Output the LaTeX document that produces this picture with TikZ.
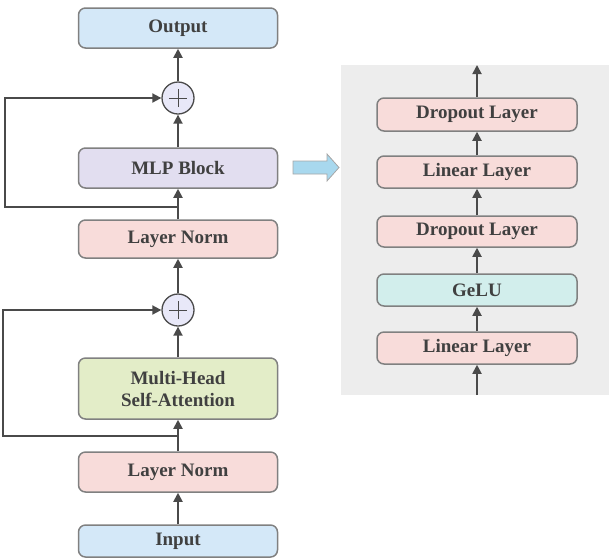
\documentclass[tikz,border=0pt]{standalone}
\usepackage{fontspec}
\setmainfont{Liberation Serif}
\usetikzlibrary{arrows.meta}
\definecolor{txtgray}{HTML}{404040}
\definecolor{linegray}{HTML}{4A4A4A}
\definecolor{boxline}{HTML}{808080}
\definecolor{panelgray}{HTML}{EDEDED}
\definecolor{ioblue}{HTML}{D4E8F8}
\definecolor{normpink}{HTML}{F8DCDA}
\definecolor{mlppurple}{HTML}{E2DEF0}
\definecolor{attgreen}{HTML}{E3EDC8}
\definecolor{gelucyan}{HTML}{D2EEEC}
\definecolor{addfill}{HTML}{E8E8F8}
\definecolor{bigarrow}{HTML}{A8D8EE}
\begin{document}
\begin{tikzpicture}[x=1pt,y=-1pt,
  layer/.style={draw=boxline, line width=1.5pt, rounded corners=7pt,
    minimum width=199pt, align=center, text=txtgray,
    font=\fontsize{19}{22}\selectfont\bfseries},
  add/.style={draw=linegray, line width=1.3pt, circle, fill=addfill,
    minimum size=32pt, inner sep=0pt,
    path picture={\draw[linegray, line width=1pt]
      ([xshift=-9pt]path picture bounding box.center) -- ([xshift=9pt]path picture bounding box.center)
      ([yshift=-9pt]path picture bounding box.center) -- ([yshift=9pt]path picture bounding box.center);}},
  flow/.style={draw=linegray, line width=1.8pt, -{Triangle[length=9pt,width=9pt]}}]
\useasboundingbox (0,0) rectangle (609,558);
% mlp panel
\fill[panelgray] (341,65) rectangle (609,395);

% encoder block
\node (inp) at (178,541) [layer, fill=ioblue, minimum height=32pt] {Input};
\node (ln1) at (178,472) [layer, fill=normpink, minimum height=40pt] {Layer Norm};
\node (mhsa) at (178,388.5) [layer, fill=attgreen, minimum height=61pt] {Multi-Head\\Self-Attention};
\node (add1) at (178,310) [add] {};
\node (ln2) at (178,239) [layer, fill=normpink, minimum height=38pt] {Layer Norm};
\node (mlp) at (178,168) [layer, fill=mlppurple, minimum height=40pt] {MLP Block};
\node (add2) at (178,98) [add] {};
\node (out) at (178,28) [layer, fill=ioblue, minimum height=40pt] {Output};
\coordinate (s1) at (178,436);
\coordinate (s2) at (178,207);

% mlp block
\node (lin1) at (477,348) [layer, fill=normpink, minimum width=200pt, minimum height=32pt] {Linear Layer};
\node (gelu) at (477,290) [layer, fill=gelucyan, minimum width=200pt, minimum height=32pt] {GeLU};
\node (drop1) at (477,231.5) [layer, fill=normpink, minimum width=200pt, minimum height=31pt] {Dropout Layer};
\node (lin2) at (477,172) [layer, fill=normpink, minimum width=200pt, minimum height=32pt] {Linear Layer};
\node (drop2) at (477,114.5) [layer, fill=normpink, minimum width=200pt, minimum height=33pt] {Dropout Layer};
\coordinate (min) at (477,395);
\coordinate (mout) at (477,65);

\draw[flow] (inp) -- (ln1);
\draw[flow] (ln1) -- (mhsa);
\draw[flow] (mhsa) -- (add1);
\draw[flow] (add1) -- (ln2);
\draw[flow] (ln2) -- (mlp);
\draw[flow] (mlp) -- (add2);
\draw[flow] (add2) -- (out);
\draw[flow] (s1) -- (3,436) |- (add1.west);
\draw[flow] (s2) -- (5,207) |- (add2.west);

\draw[flow] (min) -- (lin1);
\draw[flow] (lin1) -- (gelu);
\draw[flow] (gelu) -- (drop1);
\draw[flow] (drop1) -- (lin2);
\draw[flow] (lin2) -- (drop2);
\draw[flow] (drop2) -- (mout);

% expand arrow
\draw[fill=bigarrow, draw=boxline!70, line width=0.8pt]
  (293,161) -- (327,161) -- (327,154) -- (339,167.5) -- (327,181) -- (327,174) -- (293,174) -- cycle;
\end{tikzpicture}
\end{document}
